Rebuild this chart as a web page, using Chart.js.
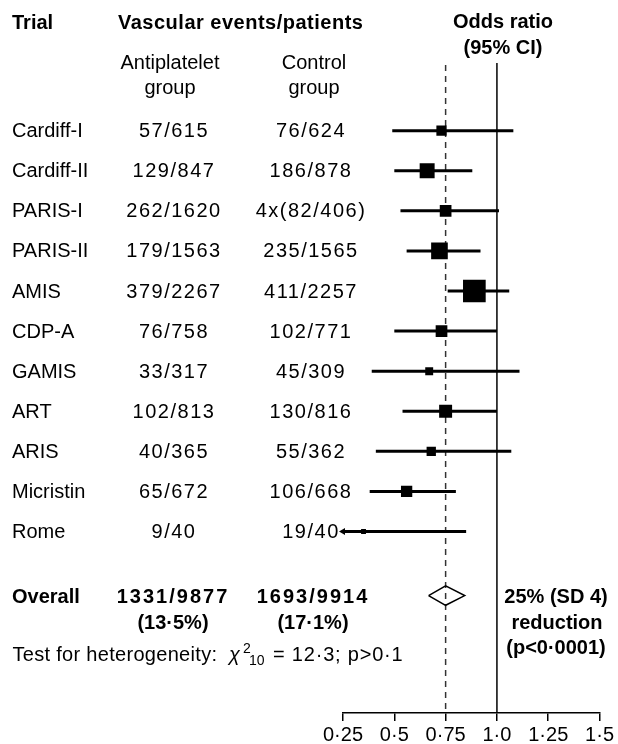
<!DOCTYPE html>
<html>
<head>
<meta charset="utf-8">
<script src="https://cdn.jsdelivr.net/npm/chart.js@4.4.1/dist/chart.umd.min.js"></script>
<style>
  html, body { margin: 0; padding: 0; background: #fff; }
  #wrap { position: relative; width: 618px; height: 744px; }
</style>
</head>
<body>
<div id="wrap"><canvas id="forest"></canvas></div>
<script>
const trials = ['Cardiff-I', 'Cardiff-II', 'PARIS-I', 'PARIS-II', 'AMIS', 'CDP-A', 'GAMIS', 'ART', 'ARIS', 'Micristin', 'Rome'];
const antiplateletEvents = ['57/615', '129/847', '262/1620', '179/1563', '379/2267', '76/758', '33/317', '102/813', '40/365', '65/672', '9/40'];
const controlEvents = ['76/624', '186/878', '4x(82/406)', '235/1565', '411/2257', '102/771', '45/309', '130/816', '55/362', '106/668', '19/40'];
const oddsRatio = [0.73, 0.66, 0.75, 0.72, 0.89, 0.73, 0.67, 0.75, 0.68, 0.56, 0.35];
const ciLow     = [0.49, 0.50, 0.53, 0.56, 0.76, 0.50, 0.39, 0.54, 0.41, 0.38, 0.13];
const ciHigh    = [1.08, 0.88, 1.01, 0.92, 1.06, 1.00, 1.11, 1.00, 1.07, 0.80, 0.85];
const weights   = [5.7, 12.1, 7.4, 15.0, 27.8, 7.4, 3.4, 9.1, 4.7, 6.9, 1.3];   // % of information

const overallEvents  = ['1331/9877', '1693/9914'];
const overallPercent = ['(13·5%)', '(17·1%)'];
const overallOR      = [0.667, 0.75, 0.843];   // low, estimate, high

const tickValues = [0.25, 0.5, 0.75, 1.0, 1.25, 1.5];
const tickLabels = ['0·25', '0·5', '0·75', '1·0', '1·25', '1·5'];

const FONT = '"Liberation Sans", Arial, sans-serif';
const X_MIN = 0.25, X_MAX = 1.5;
const Y_MIN = -1.69, Y_MAX = 14.53;
const OVERALL_ROW = 11.6;

// one line per trial, clipped at the axis minimum
const ciSets = trials.map((t, i) => ({
    type: 'line',
    data: [{ x: Math.max(ciLow[i], X_MIN), y: i }, { x: ciHigh[i], y: i }],
    borderColor: '#000',
    borderWidth: 3,
    borderCapStyle: 'butt',
    pointRadius: 0,
    clip: false,
    order: 2
}));

const arrowPts = trials.map((t, i) => i).filter(i => ciLow[i] < X_MIN).map(i => ({ x: X_MIN, y: i }));

const d = 0.242;
const diamond = [
    { x: overallOR[0], y: OVERALL_ROW },
    { x: overallOR[1], y: OVERALL_ROW - d },
    { x: overallOR[2], y: OVERALL_ROW },
    { x: overallOR[1], y: OVERALL_ROW + d },
    { x: overallOR[0], y: OVERALL_ROW }
];

function put(ctx, s, x, y, align, bold, spacing, size) {
    ctx.font = (bold ? 'bold ' : '') + (size || 20) + 'px ' + FONT;
    ctx.textAlign = align;
    ctx.letterSpacing = spacing || '0px';
    ctx.fillText(s, x, y);
    ctx.letterSpacing = '0px';
}

const tableText = {
    id: 'tableText',
    afterDraw(chart) {
        const ctx = chart.ctx;
        const y = chart.scales.y;
        ctx.save();
        ctx.fillStyle = '#000';
        ctx.textBaseline = 'middle';

        put(ctx, 'Trial', 12, 23, 'left', true);
        put(ctx, 'Vascular events/patients', 118, 23, 'left', true, '0.5px');
        put(ctx, 'Odds ratio', 503, 22, 'center', true);
        put(ctx, '(95% CI)', 503, 48, 'center', true);
        put(ctx, 'Antiplatelet', 170, 63, 'center');
        put(ctx, 'group', 170, 88, 'center');
        put(ctx, 'Control', 314, 63, 'center');
        put(ctx, 'group', 314, 88, 'center');

        trials.forEach((t, i) => {
            const py = y.getPixelForValue(i) + 1;
            put(ctx, t, 12, py, 'left');
            put(ctx, antiplateletEvents[i], 174, py, 'center', false, '1.5px');
            put(ctx, controlEvents[i], 311, py, 'center', false, '1.5px');
        });

        const oy = y.getPixelForValue(OVERALL_ROW) + 2;
        put(ctx, 'Overall', 12, oy, 'left', true);
        put(ctx, overallEvents[0], 173, oy, 'center', true, '2px');
        put(ctx, overallEvents[1], 313, oy, 'center', true, '2px');
        put(ctx, overallPercent[0], 173, oy + 26, 'center', true);
        put(ctx, overallPercent[1], 313, oy + 26, 'center', true);

        put(ctx, '25% (SD 4)', 556, oy, 'center', true);
        put(ctx, 'reduction', 557, oy + 26, 'center', true);
        put(ctx, '(p<0·0001)', 556, oy + 51, 'center', true);

        // heterogeneity line with chi-square super/subscripts
        const hy = oy + 58;
        put(ctx, 'Test for heterogeneity:', 12.5, hy, 'left', false, '0.3px');
        ctx.font = 'italic 20px ' + FONT;
        ctx.textAlign = 'left';
        ctx.fillText('χ', 229, hy);
        put(ctx, '2', 243, hy - 6, 'left', false, '0px', 14);
        put(ctx, '10', 249, hy + 6, 'left', false, '0px', 14);
        put(ctx, '= 12·3; p>0·1', 273, hy, 'left', false, '0.8px');
        ctx.restore();
    }
};

new Chart(document.getElementById('forest'), {
    type: 'scatter',
    data: {
        datasets: [
            {
                data: trials.map((t, i) => ({ x: oddsRatio[i], y: i })),
                pointStyle: 'rect',
                pointRadius: weights.map(w => 4.3 * Math.sqrt(w) / Math.SQRT2),
                backgroundColor: '#000',
                borderWidth: 0,
                order: 0
            },
            {
                data: arrowPts,
                pointStyle: 'triangle',
                rotation: 270,
                pointRadius: 4,
                backgroundColor: '#000',
                borderWidth: 0,
                clip: false,
                order: 0
            },
            {
                type: 'line',
                data: diamond,
                borderColor: '#000',
                borderWidth: 1.5,
                pointRadius: 0,
                fill: false,
                order: 1
            },
            ...ciSets,
            {
                type: 'line',
                data: [{ x: 1, y: Y_MIN }, { x: 1, y: Y_MAX }],
                borderColor: '#000',
                borderWidth: 1.5,
                pointRadius: 0,
                order: 3
            },
            {
                type: 'line',
                data: [{ x: overallOR[1], y: Y_MIN + 0.05 }, { x: overallOR[1], y: Y_MAX }],
                borderColor: '#333',
                borderWidth: 1.5,
                borderDash: [6, 5],
                pointRadius: 0,
                order: 3
            }
        ]
    },
    options: {
        responsive: true,
        maintainAspectRatio: false,
        animation: false,
        devicePixelRatio: 1,
        layout: { padding: { left: 343, right: 17, top: 63, bottom: -5 } },
        plugins: { legend: { display: false }, tooltip: { enabled: false } },
        scales: {
            x: {
                type: 'linear',
                min: X_MIN,
                max: X_MAX,
                afterBuildTicks: s => { s.ticks = tickValues.map(v => ({ value: v })); },
                ticks: {
                    callback: (v, i) => tickLabels[i],
                    color: '#000',
                    padding: 4,
                    maxRotation: 0,
                    font: { family: FONT, size: 20, lineHeight: 1 }
                },
                grid: { drawOnChartArea: false, tickLength: 8, color: '#000', lineWidth: 1.5 },
                border: { color: '#000', width: 1.5 }
            },
            y: { type: 'linear', min: Y_MIN, max: Y_MAX, reverse: true, display: false }
        }
    },
    plugins: [tableText]
});
</script>
</body>
</html>
